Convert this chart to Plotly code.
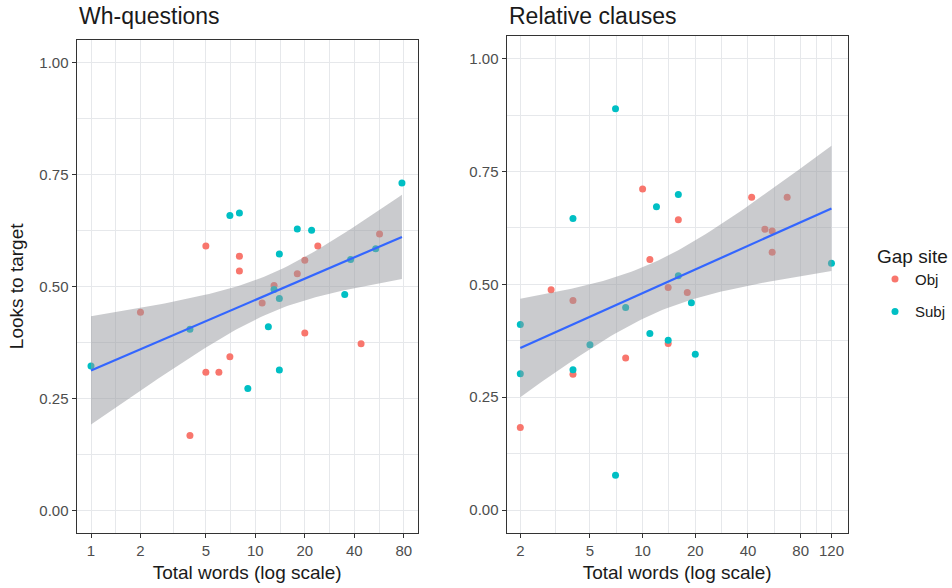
import numpy as np
import plotly.graph_objects as go

# ---- data ----
wh_obj_x = [2, 4, 5, 5, 6, 7, 8, 8, 11, 13, 18, 20, 20, 24, 44, 57]
wh_obj_y = [0.442, 0.167, 0.590, 0.308, 0.308, 0.343, 0.567, 0.534, 0.463, 0.502, 0.528, 0.558, 0.396, 0.590, 0.372, 0.617]
wh_subj_x = [1, 4, 7, 8, 9, 12, 13, 14, 14, 14, 18, 22, 35, 38, 54, 78]
wh_subj_y = [0.322, 0.404, 0.658, 0.664, 0.272, 0.410, 0.493, 0.572, 0.473, 0.313, 0.628, 0.625, 0.482, 0.560, 0.584, 0.731]

rc_obj_x = [2, 3, 4, 4, 8, 10, 11, 14, 14, 16, 18, 42, 50, 55, 55, 67]
rc_obj_y = [0.183, 0.488, 0.464, 0.301, 0.337, 0.711, 0.555, 0.493, 0.369, 0.643, 0.482, 0.693, 0.622, 0.618, 0.571, 0.693]
rc_subj_x = [2, 2, 4, 4, 5, 7, 7, 8, 11, 12, 14, 16, 16, 19, 20, 120]
rc_subj_y = [0.411, 0.302, 0.646, 0.311, 0.366, 0.889, 0.077, 0.449, 0.391, 0.672, 0.376, 0.699, 0.519, 0.459, 0.345, 0.547]

wh_xticks = [1, 2, 5, 10, 20, 40, 80]
rc_xticks = [2, 5, 10, 20, 40, 80, 120]
y_ticks = [0.0, 0.25, 0.5, 0.75, 1.0]
panel_titles = ["Wh-questions", "Relative clauses"]
x_title = "Total words (log scale)"
y_title = "Looks to target"
legend_title = "Gap site"
groups = ["Obj", "Subj"]

OBJ_COL = "#F8766D"
SUBJ_COL = "#00BFC4"
LINE_COL = "#3366FF"
T975 = 2.0422724563  # t quantile, df = 30


def lm_band(xs, ys, n=80):
    lx = np.log10(np.asarray(xs, float))
    y = np.asarray(ys, float)
    X = np.column_stack([np.ones_like(lx), lx])
    beta, *_ = np.linalg.lstsq(X, y, rcond=None)
    resid = y - X @ beta
    dfree = len(y) - 2
    s2 = resid @ resid / dfree
    XtXi = np.linalg.inv(X.T @ X)
    gx = np.linspace(lx.min(), lx.max(), n)
    G = np.column_stack([np.ones_like(gx), gx])
    fit = G @ beta
    se = np.sqrt(np.einsum("ij,jk,ik->i", G, XtXi, G) * s2)
    return 10 ** gx, fit, fit - T975 * se, fit + T975 * se


W, H = 952, 588
panels = [
    dict(obj=(wh_obj_x, wh_obj_y), subj=(wh_subj_x, wh_subj_y), ticks=wh_xticks,
         xpx=(76.7, 417.7), ypx=(40, 532.7), xr=[-0.087, 1.988]),
    dict(obj=(rc_obj_x, rc_obj_y), subj=(rc_subj_x, rc_subj_y), ticks=rc_xticks,
         xpx=(506.7, 847.7), ypx=(36, 532.7), xr=[0.2233, 2.172]),
]

fig = go.Figure()
font_family = "Liberation Sans, Arial, sans-serif"
GRID = "#E6E8EB"

for i, p in enumerate(panels):
    xa = "x" if i == 0 else "x2"
    ya = "y" if i == 0 else "y2"
    for g, col in zip(groups, [OBJ_COL, SUBJ_COL]):
        xs, ys = p["obj"] if g == "Obj" else p["subj"]
        fig.add_trace(go.Scatter(
            x=xs, y=ys, mode="markers", name=g, legendgroup=g,
            showlegend=(i == 0),
            marker=dict(color=col, size=7, line=dict(width=0)),
            xaxis=xa, yaxis=ya))
    allx = list(p["obj"][0]) + list(p["subj"][0])
    ally = list(p["obj"][1]) + list(p["subj"][1])
    gx, fit, lo, hi = lm_band(allx, ally)
    fig.add_trace(go.Scatter(
        x=np.concatenate([gx, gx[::-1]]), y=np.concatenate([hi, lo[::-1]]),
        fill="toself", fillcolor="rgba(150,152,158,0.5)", mode="lines",
        line=dict(width=0), showlegend=False, hoverinfo="skip",
        xaxis=xa, yaxis=ya))
    fig.add_trace(go.Scatter(
        x=gx, y=fit, mode="lines", line=dict(color=LINE_COL, width=2.2),
        showlegend=False, xaxis=xa, yaxis=ya))

    t = p["ticks"]
    minor = [float(np.sqrt(t[k] * t[k + 1])) for k in range(len(t) - 1)]

    axis_common = dict(
        showline=True, linecolor="#333333", linewidth=1.3, mirror=True,
        ticks="outside", ticklen=4, tickwidth=1.2, tickcolor="#333333",
        showgrid=True, gridcolor=GRID, gridwidth=1.3, zeroline=False,
        automargin=False,
        tickfont=dict(size=15, color="#4D4D4D", family=font_family),
    )
    xdom = [p["xpx"][0] / W, p["xpx"][1] / W]
    ydom = [1 - p["ypx"][1] / H, 1 - p["ypx"][0] / H]
    xkey = "xaxis" if i == 0 else "xaxis2"
    ykey = "yaxis" if i == 0 else "yaxis2"
    fig.update_layout(**{
        xkey: dict(axis_common, type="log", range=p["xr"], domain=xdom,
                   anchor=ya, tickmode="array", tickvals=t,
                   ticktext=[str(v) for v in t],
                   minor=dict(tickmode="array", tickvals=minor, showgrid=True,
                              gridcolor=GRID, gridwidth=1.1, ticks=""),
                   title=dict(text=x_title, standoff=7,
                              font=dict(size=19, color="#1A1A1A", family=font_family))),
        ykey: dict(axis_common, range=[-0.05, 1.05], domain=ydom, anchor=xa,
                   tickmode="array", tickvals=y_ticks, tickformat=".2f",
                   minor=dict(dtick=0.125, tick0=0, showgrid=True,
                              gridcolor=GRID, gridwidth=1.1, ticks=""),
                   title=dict(text=y_title if i == 0 else "", standoff=10,
                              font=dict(size=19, color="#1A1A1A", family=font_family))),
    })
    fig.add_annotation(
        text=panel_titles[i], xref="paper", yref="paper",
        x=p["xpx"][0] / W, y=1 - 31 / H, xanchor="left", yanchor="bottom",
        showarrow=False, font=dict(size=23, color="#1A1A1A", family=font_family))

fig.update_layout(
    width=W, height=H, margin=dict(l=0, r=0, t=0, b=0, autoexpand=False),
    plot_bgcolor="white", paper_bgcolor="white",
    font=dict(family=font_family),
    showlegend=True,
    legend=dict(
        title=dict(text=legend_title, font=dict(size=19, color="#1A1A1A")),
        font=dict(size=15, color="#1A1A1A"),
        x=875 / W, y=1 - 238 / H, xanchor="left", yanchor="top",
        traceorder="grouped", tracegroupgap=10,
        bgcolor="rgba(0,0,0,0)", itemwidth=30),
)

fig.write_html("out.html", config={"displayModeBar": False},
               post_script="document.body.style.margin='0';document.body.style.overflow='hidden';")
